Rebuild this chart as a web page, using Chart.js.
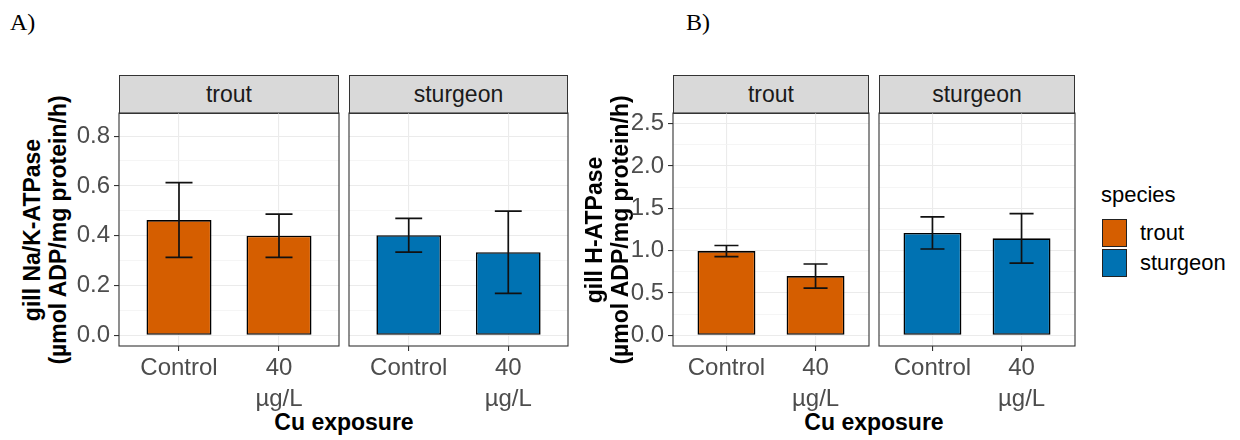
<!DOCTYPE html>
<html>
<head>
<meta charset="utf-8">
<script src="https://cdn.jsdelivr.net/npm/chart.js@4.4.1/dist/chart.umd.min.js"></script>
<style>
  body { margin: 0; background: #fff; width: 1240px; height: 440px; position: relative; overflow: hidden;
         font-family: "Liberation Sans", Arial, sans-serif; }
  .abs { position: absolute; }
  .tag { font-family: "Liberation Serif", "Times New Roman", serif; font-size: 24px; line-height: 26px; color: #000; }
  .strip { background: #d9d9d9; border: 1px solid #333; box-sizing: border-box; text-align: center;
           font-size: 23px; line-height: 36px; color: #1a1a1a; }
  .ytitle { font-weight: bold; font-size: 23px; line-height: 26px; text-align: center; white-space: nowrap;
            transform: translate(-50%, -50%) rotate(-90deg); color: #000; }
  .xtitle { font-weight: bold; font-size: 23px; line-height: 26px; white-space: nowrap; transform: translateX(-50%); color: #000; }
  .leg-title { font-size: 22px; line-height: 26px; color: #000; }
  .leg-key { border: 1.5px solid #222; box-sizing: border-box; }
  .leg-label { font-size: 22px; line-height: 26px; color: #000; }
</style>
</head>
<body>
<script>
// ---- data ----
const species = ['trout', 'sturgeon'];
const speciesColors = ['#D55E00', '#0072B2'];
const exposures = ['Control', '40 µg/L'];
const exposureTickLabels = [['Control'], ['40', 'µg/L']];
const xPos = [1, 2];

// A) gill Na/K-ATPase (mean, error)
const nakTroutMean = [0.463, 0.400];
const nakTroutErr = [0.150, 0.087];
const nakSturgeonMean = [0.402, 0.334];
const nakSturgeonErr = [0.068, 0.165];
const nakTicks = [0, 0.2, 0.4, 0.6, 0.8];
const nakTickLabels = ['0.0', '0.2', '0.4', '0.6', '0.8'];
const nakMinor = [0.1, 0.3, 0.5, 0.7];
const nakRange = [-0.0425, 0.8925];

// B) gill H-ATPase
const hTroutMean = [0.995, 0.700];
const hTroutErr = [0.066, 0.143];
const hSturgeonMean = [1.21, 1.146];
const hSturgeonErr = [0.19, 0.292];
const hTicks = [0, 0.5, 1.0, 1.5, 2.0, 2.5];
const hTickLabels = ['0.0', '0.5', '1.0', '1.5', '2.0', '2.5'];
const hMinor = [0.25, 0.75, 1.25, 1.75, 2.25];
const hRange = [-0.125, 2.625];

// ---- layout ----
const FONT = '"Liberation Sans", Arial, sans-serif';
const PANEL_TOP = 113, PANEL_BOTTOM = 346, STRIP_TOP = 75;
const CANVAS_TOP = 90, CANVAS_BOTTOM = 432;
const CAP_HALF = 0.135;

const panels = [
  { tag: 'A)', tagX: 10, yTitle: ['gill Na/K-ATPase', '(µmol ADP/mg protein/h)'], yTitleX: 45, xTitleX: 344,
    range: nakRange, ticks: nakTicks, labels: nakTickLabels, minor: nakMinor,
    facets: [[119, 339], [349, 568]],
    series: [[nakTroutMean, nakTroutErr], [nakSturgeonMean, nakSturgeonErr]] },
  { tag: 'B)', tagX: 686, yTitle: ['gill H-ATPase', '(µmol ADP/mg protein/h)'], yTitleX: 607, xTitleX: 874,
    range: hRange, ticks: hTicks, labels: hTickLabels, minor: hMinor,
    facets: [[673, 869], [879, 1075]],
    series: [[hTroutMean, hTroutErr], [hSturgeonMean, hSturgeonErr]] }
];

function el(cls, css, text) {
  const d = document.createElement('div');
  d.className = 'abs ' + cls;
  Object.assign(d.style, css);
  if (text !== undefined) d.innerHTML = text;
  document.body.appendChild(d);
  return d;
}

// error bars + panel border
const facetDecor = {
  id: 'facetDecor',
  afterDatasetsDraw(chart) {
    const { ctx, scales: { x, y } } = chart;
    chart.data.datasets.forEach((ds, di) => {
      chart.getDatasetMeta(di).data.forEach((bar, i) => {
        const m = ds.data[i].y, e = ds.err[i], xv = ds.data[i].x;
        const half = x.getPixelForValue(xv + CAP_HALF) - x.getPixelForValue(xv);
        const top = y.getPixelForValue(m + e), bot = y.getPixelForValue(m - e);
        ctx.save();
        ctx.strokeStyle = '#111';
        ctx.lineWidth = 1.7;
        ctx.beginPath();
        ctx.moveTo(bar.x, top); ctx.lineTo(bar.x, bot);
        ctx.moveTo(bar.x - half, top); ctx.lineTo(bar.x + half, top);
        ctx.moveTo(bar.x - half, bot); ctx.lineTo(bar.x + half, bot);
        ctx.stroke();
        ctx.restore();
      });
    });
  },
  afterDraw(chart) {
    const a = chart.chartArea, ctx = chart.ctx;
    ctx.save();
    ctx.strokeStyle = '#333';
    ctx.lineWidth = 1.1;
    ctx.strokeRect(a.left, a.top, a.right - a.left, a.bottom - a.top);
    ctx.restore();
  }
};

function makeFacet(p, fi) {
  const [left, right] = p.facets[fi];
  const showY = fi === 0;
  const yw = showY ? 70 : 6;
  const padR = 6;
  const cLeft = left - yw;
  const cw = right - cLeft + padR;
  const ch = CANVAS_BOTTOM - CANVAS_TOP;
  const padTop = PANEL_TOP - CANVAS_TOP;
  const xh = ch - padTop - (PANEL_BOTTOM - PANEL_TOP);

  el('strip', { left: left + 'px', top: STRIP_TOP + 'px', width: (right - left) + 'px',
                height: (PANEL_TOP - STRIP_TOP + 1) + 'px' }, species[fi]);

  const canvas = document.createElement('canvas');
  canvas.width = cw; canvas.height = ch;
  Object.assign(canvas.style, { position: 'absolute', left: cLeft + 'px', top: CANVAS_TOP + 'px',
                                width: cw + 'px', height: ch + 'px' });
  document.body.appendChild(canvas);

  const [means, errs] = p.series[fi];
  const gridVals = p.ticks.concat(p.minor);
  const isMajor = v => p.ticks.indexOf(v) >= 0;

  new Chart(canvas.getContext('2d'), {
    type: 'bar',
    data: {
      datasets: [{
        label: species[fi],
        data: means.map((m, i) => ({ x: xPos[i], y: m })),
        err: errs,
        backgroundColor: speciesColors[fi],
        borderColor: '#000',
        borderWidth: 1.6,
        borderSkipped: false,
        categoryPercentage: 1,
        barPercentage: 0.65
      }]
    },
    options: {
      responsive: false,
      animation: false,
      events: [],
      layout: { autoPadding: false, padding: { top: padTop, right: padR, bottom: 0, left: 0 } },
      scales: {
        x: {
          type: 'linear', min: 0.4, max: 2.6, offset: false,
          afterBuildTicks: s => { s.ticks = xPos.map(v => ({ value: v })); },
          ticks: { autoSkip: false, maxRotation: 0, minRotation: 0, padding: 2, color: '#4d4d4d',
                   font: { family: FONT, size: 24, lineHeight: 1.29 },
                   callback: v => exposureTickLabels[xPos.indexOf(v)] },
          grid: { offset: false, color: '#ebebeb', lineWidth: 1.1, drawTicks: true, tickLength: 5,
                  tickColor: '#333', tickWidth: 1.1 },
          border: { display: false },
          afterFit: s => { s.height = xh; s.paddingLeft = 0; s.paddingRight = 0; }
        },
        y: {
          type: 'linear', min: p.range[0], max: p.range[1],
          afterBuildTicks: s => { s.ticks = gridVals.map(v => ({ value: v })); },
          ticks: { display: showY, autoSkip: false, padding: 4, color: '#4d4d4d',
                   font: { family: FONT, size: 24 },
                   callback: v => isMajor(v) ? p.labels[p.ticks.indexOf(v)] : '' },
          grid: {
            color: c => isMajor(c.tick.value) ? '#ebebeb' : '#f3f3f3',
            lineWidth: c => isMajor(c.tick.value) ? 1.1 : 0.8,
            drawTicks: showY, tickLength: 5, tickWidth: 1.1,
            tickColor: c => isMajor(c.tick.value) ? '#333' : 'rgba(0,0,0,0)'
          },
          border: { display: false },
          afterFit: s => { s.width = yw; s.paddingTop = 0; s.paddingBottom = 0; }
        }
      },
      plugins: { legend: { display: false }, tooltip: { enabled: false } }
    },
    plugins: [facetDecor]
  });
}

panels.forEach(p => {
  el('tag', { left: p.tagX + 'px', top: '9px' }, p.tag);
  el('ytitle', { left: p.yTitleX + 'px', top: ((PANEL_TOP + PANEL_BOTTOM) / 2) + 'px' }, p.yTitle.join('<br>'));
  el('xtitle', { left: p.xTitleX + 'px', top: '409px' }, 'Cu exposure');
  p.facets.forEach((f, fi) => makeFacet(p, fi));
});

// legend
el('leg-title', { left: '1101px', top: '182px' }, 'species');
species.forEach((s, i) => {
  el('leg-key', { left: '1102px', top: (219 + i * 30) + 'px', width: '25px', height: '28px',
                  background: speciesColors[i] });
  el('leg-label', { left: '1140px', top: (220 + i * 30) + 'px' }, s);
});
</script>
</body>
</html>
